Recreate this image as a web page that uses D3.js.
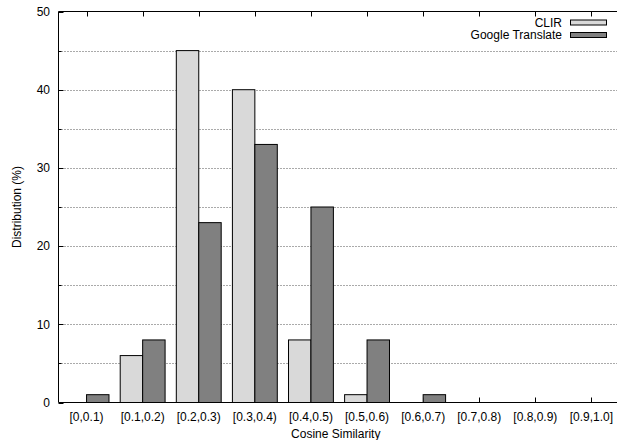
<!DOCTYPE html>
<html>
<head>
<meta charset="utf-8">
<script src="https://cdn.jsdelivr.net/npm/d3@7"></script>
<style>
  body { margin: 0; background: #fff; }
  svg { display: block; }
  text { font-family: "Liberation Sans", Arial, Helvetica, sans-serif; font-size: 12px; fill: #000; }
</style>
</head>
<body>
<script>
const categories = ['[0,0.1)', '[0.1,0.2)', '[0.2,0.3)', '[0.3,0.4)', '[0.4,0.5)',
  '[0.5,0.6)', '[0.6,0.7)', '[0.7,0.8)', '[0.8,0.9)', '[0.9,1.0]'];
const seriesNames = ['CLIR', 'Google Translate'];
const clir = [0, 6, 45, 40, 8, 1, 0, 0, 0, 0];
const google = [1, 8, 23, 33, 25, 8, 1, 0, 0, 0];
const yTicks = [0, 10, 20, 30, 40, 50];
const yMinorTicks = [5, 15, 25, 35, 45];

const colors = ['#d9d9d9', '#808080'];

let width = 617;
let height = 440;
let plotLeft = 58.5, plotRight = 619.5, plotTop = 11.5, plotBottom = 402.5;

let svg = d3.select('body').append('svg')
  .attr('width', width)
  .attr('height', height);

let x = d3.scaleBand().domain(categories).range([plotLeft, plotRight]).padding(0);
let xs = d3.scaleBand().domain(seriesNames).range([0, x.bandwidth()])
  .paddingInner(0).paddingOuter(0.25);
let y = d3.scaleLinear().domain([0, 50]).range([plotBottom, plotTop]);

let py = v => Math.round(y(v)) + 0.5;

// dotted grid at every 5
svg.append('g').selectAll('line')
  .data(yTicks.concat(yMinorTicks).filter(v => v > 0 && v < 50))
  .enter().append('line')
  .attr('x1', plotLeft).attr('x2', plotRight)
  .attr('y1', py).attr('y2', py)
  .attr('stroke', '#555')
  .attr('stroke-dasharray', '1,2');

// x ticks, bottom (up) and top (down)
let xTickG = svg.append('g');
categories.forEach(c => {
  let cx = Math.round(x(c) + x.bandwidth() / 2) + 0.5;
  xTickG.append('line').attr('x1', cx).attr('x2', cx)
    .attr('y1', plotBottom).attr('y2', plotBottom - 5).attr('stroke', '#000');
  xTickG.append('line').attr('x1', cx).attr('x2', cx)
    .attr('y1', plotTop).attr('y2', plotTop + 5).attr('stroke', '#000');
});

// y ticks
svg.append('g').selectAll('line')
  .data(yTicks).enter().append('line')
  .attr('x1', plotLeft).attr('x2', plotLeft + 5)
  .attr('y1', py).attr('y2', py)
  .attr('stroke', '#000');
svg.append('g').selectAll('line')
  .data(yMinorTicks).enter().append('line')
  .attr('x1', plotLeft).attr('x2', plotLeft + 3)
  .attr('y1', py).attr('y2', py)
  .attr('stroke', '#000');

// bars
let rows = categories.map((c, i) => ({ cat: c, values: [clir[i], google[i]] }));
let groups = svg.append('g').selectAll('g')
  .data(rows).enter().append('g')
  .attr('transform', d => `translate(${x(d.cat)},0)`);
groups.selectAll('rect')
  .data(d => d.values.map((v, j) => ({ name: seriesNames[j], value: v, j: j })).filter(b => b.value > 0))
  .enter().append('rect')
  .attr('x', b => xs(b.name))
  .attr('width', xs.bandwidth())
  .attr('y', b => y(b.value))
  .attr('height', b => y(0) - y(b.value))
  .attr('fill', b => colors[b.j])
  .attr('stroke', '#000')
  .attr('stroke-width', 1);

// frame
svg.append('path')
  .attr('d', `M${plotRight},${plotTop}H${plotLeft}V${plotBottom}H${plotRight}`)
  .attr('fill', 'none')
  .attr('stroke', '#000');

// tick labels
svg.append('g').selectAll('text')
  .data(yTicks).enter().append('text')
  .attr('x', 50).attr('y', d => y(d)).attr('dy', '0.35em')
  .attr('text-anchor', 'end')
  .text(d => d);
svg.append('g').selectAll('text')
  .data(categories).enter().append('text')
  .attr('x', d => x(d) + x.bandwidth() / 2).attr('y', 421)
  .attr('text-anchor', 'middle')
  .text(d => d);

// axis titles
svg.append('text')
  .attr('x', (plotLeft + 619) / 2 - 3).attr('y', 438)
  .attr('text-anchor', 'middle')
  .text('Cosine Similarity');
svg.append('text')
  .attr('transform', `translate(21,${(plotTop + plotBottom) / 2}) rotate(-90)`)
  .attr('text-anchor', 'middle')
  .text('Distribution (%)');

// legend
let legend = svg.append('g');
seriesNames.forEach((name, j) => {
  let ly = 22.5 + j * 12.5;
  legend.append('text')
    .attr('x', 562).attr('y', ly).attr('dy', '0.35em')
    .attr('text-anchor', 'end')
    .text(name);
  legend.append('rect')
    .attr('x', 570.5).attr('y', ly - 2.5)
    .attr('width', 36).attr('height', 5)
    .attr('fill', colors[j])
    .attr('stroke', '#000');
});
</script>
</body>
</html>
